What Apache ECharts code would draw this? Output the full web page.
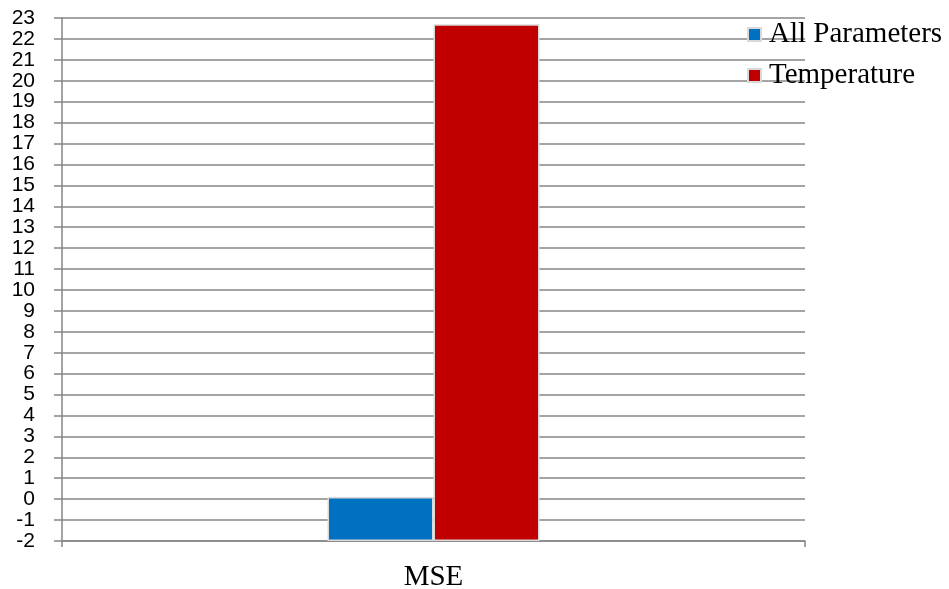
<!DOCTYPE html>
<html>
<head>
<meta charset="utf-8">
<script src="https://cdn.jsdelivr.net/npm/echarts@6/dist/echarts.min.js"></script>
<style>
  html, body { margin: 0; padding: 0; background: #fff; }
  #chart { width: 949px; height: 589px; }
</style>
</head>
<body>
<div id="chart"></div>
<script>
// Chart data
const categories = ['MSE'];
const seriesNames = ['All Parameters', 'Temperature'];
const allParameters = [0.1];
const temperature = [22.7];
const yMin = -2;
const yMax = 23;

// Bars rise from the bottom of the value axis (yMin), so values are drawn
// relative to that floor and axis labels are shifted back to real values.
const shift = v => v - yMin;

const chart = echarts.init(document.getElementById('chart'));
chart.setOption({
  animation: false,
  backgroundColor: '#ffffff',
  grid: {
    left: 62, right: 144, top: 18, bottom: 48,
    containLabel: false, outerBoundsMode: 'none'
  },
  legend: {
    orient: 'vertical',
    left: 747,
    top: 20,
    padding: 0,
    itemWidth: 13,
    itemHeight: 13,
    itemGap: 12,
    icon: 'rect',
    textStyle: {
      fontFamily: 'Liberation Serif', fontSize: 29, lineHeight: 29, color: '#000',
      padding: [0, 0, 0, 3]
    },
    data: seriesNames
  },
  xAxis: {
    type: 'category',
    data: categories,
    axisLine: { lineStyle: { color: '#868686', width: 1.5 } },
    axisTick: { show: true, length: 6, lineStyle: { color: '#868686', width: 1.5 } },
    axisLabel: { fontFamily: 'Liberation Serif', fontSize: 29, color: '#000', margin: 22 }
  },
  yAxis: {
    type: 'value',
    min: shift(yMin),
    max: shift(yMax),
    interval: 1,
    axisLine: { show: true, lineStyle: { color: '#868686', width: 1.5 } },
    axisTick: { show: true, length: 8, lineStyle: { color: '#868686', width: 1.5 } },
    axisLabel: {
      fontFamily: 'Liberation Sans', fontSize: 21, lineHeight: 16, color: '#000', margin: 27,
      showMinLabel: true, showMaxLabel: true,
      formatter: v => String(Math.round(v + yMin))
    },
    splitLine: { lineStyle: { color: '#868686', width: 1.5 } }
  },
  series: [
    {
      name: seriesNames[0],
      type: 'bar',
      data: allParameters.map(shift),
      barWidth: 106,
      barGap: '0%',
      itemStyle: { color: '#0070c0', borderColor: '#d9d9d9', borderWidth: 1.5 }
    },
    {
      name: seriesNames[1],
      type: 'bar',
      data: temperature.map(shift),
      barWidth: 106,
      barGap: '0%',
      itemStyle: { color: '#c00000', borderColor: '#d9d9d9', borderWidth: 1.5 }
    }
  ]
});
</script>
</body>
</html>
